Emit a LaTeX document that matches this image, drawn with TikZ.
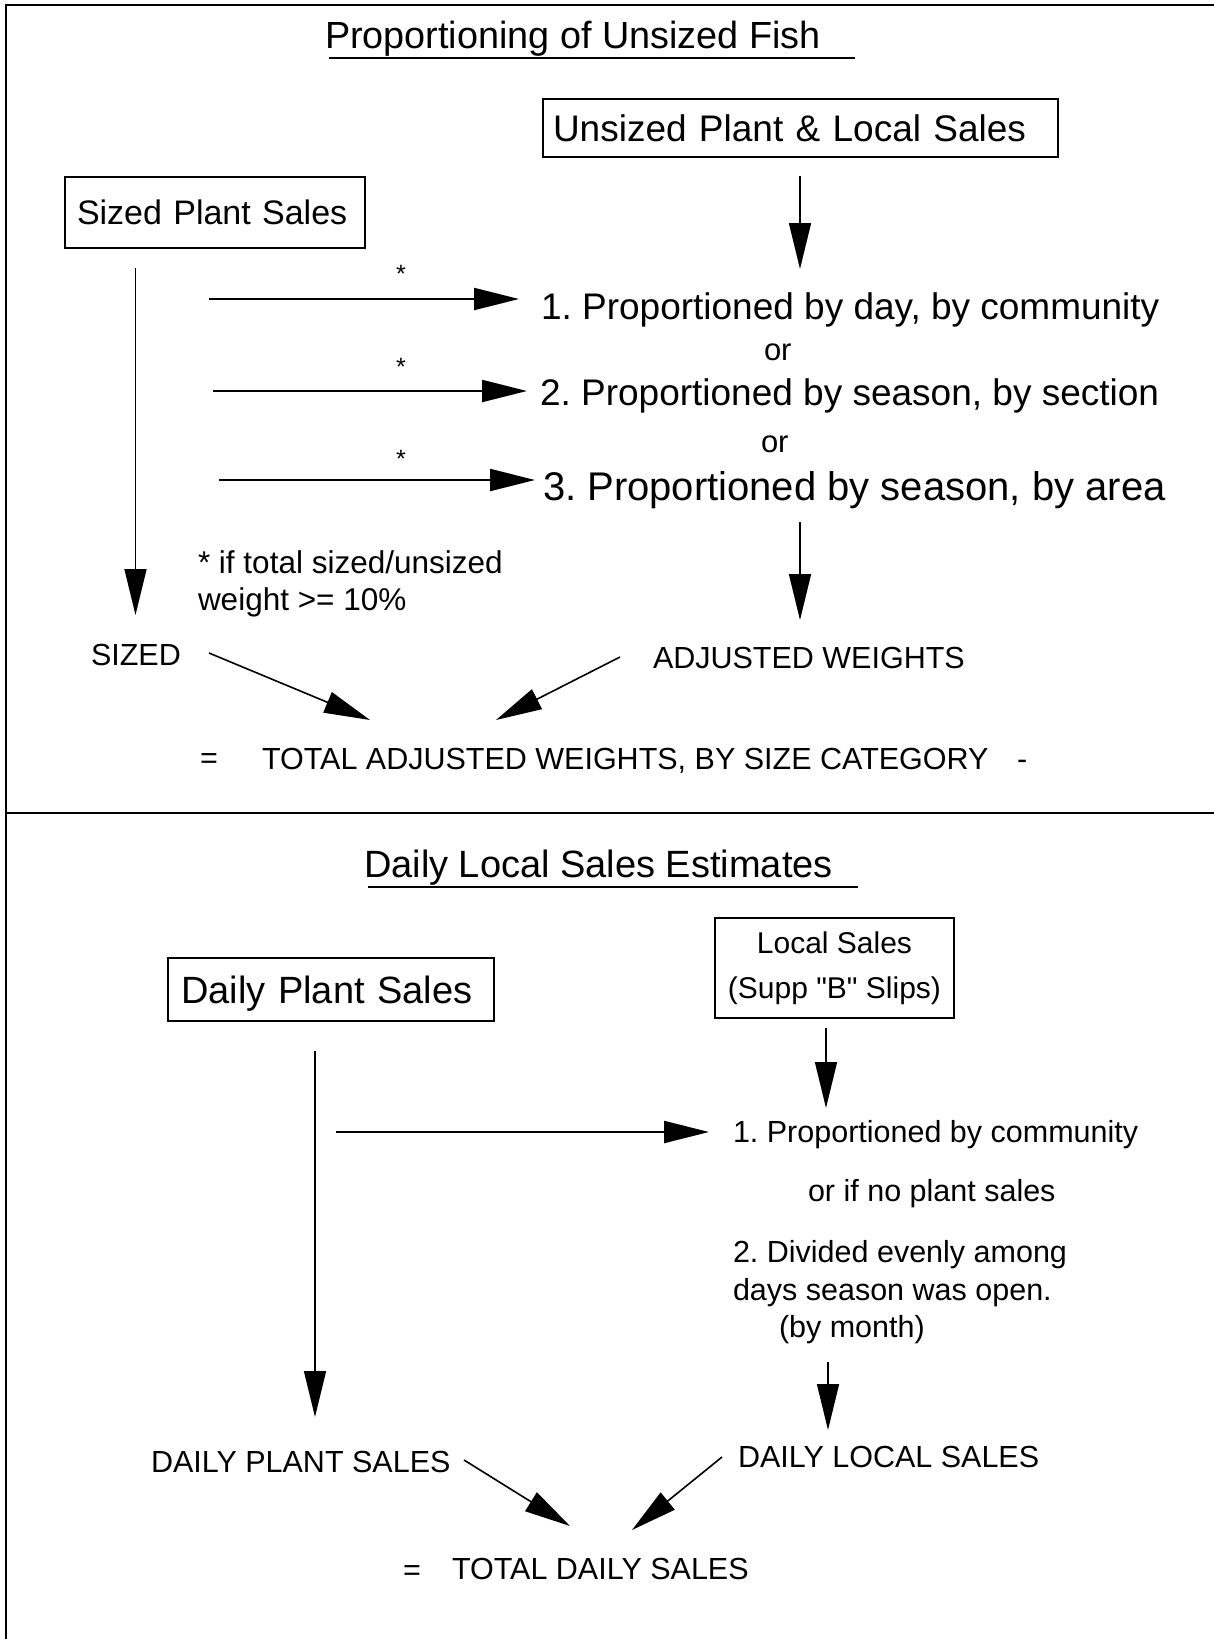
\documentclass[tikz,border=0pt]{standalone}
\usepackage{fontspec}
\setmainfont{Liberation Sans}[Ligatures=TeXOff]
\usetikzlibrary{arrows.meta}
\frenchspacing
\tikzset{
  every node/.style={inner sep=0pt, outer sep=0pt},
  lbl/.style={anchor=base west},
  fbig/.style={font=\fontsize{37}{44}\selectfont},
  fmid/.style={font=\fontsize{30.5}{36}\selectfont},
  frame/.style={line width=2pt},
  ul/.style={line width=2pt},
  box/.style={draw, line width=2pt, inner ysep=0pt},
  arr/.style={line width=1.6pt, -{Triangle[length=46pt,width=22pt]}},
  harr/.style={line width=2.2pt, -{Triangle[length=45pt,width=22pt]}},
  star/.style={anchor=base, font=\fontsize{25}{30}\selectfont}
}
\begin{document}
\begin{tikzpicture}[x=1pt,y=-1pt]
\useasboundingbox (0,0) rectangle (1214,1639);
% frame
\draw[frame] (1214,5) -- (6,5) -- (6,1639);
\draw[frame] (6,813) -- (1214,813);

% ---------------- upper section ----------------
\node[lbl, font=\fontsize{37.8}{44}\selectfont] (title1) at (325,48) {Proportioning of Unsized Fish};
\draw[ul] (329,58) -- (855,58);

\node[box, fbig, minimum width=515pt, minimum height=58pt, inner xsep=10pt,
      text width=495pt, align=left] (unsized) at (800.5,128) {Unsized Plant \& Local Sales};
\node[box, font=\fontsize{34}{40}\selectfont, minimum width=300pt, minimum height=71pt,
      inner xsep=12pt, text width=276pt, align=left] (sized) at (215,212.5) {Sized Plant Sales};

\node[lbl, fbig] (p1) at (541,319) {1. Proportioned by day, by community};
\node[lbl, font=\fontsize{31}{36}\selectfont] (or1) at (764,360) {or};
\node[lbl, fbig] (p2) at (540,405) {2. Proportioned by season, by section};
\node[lbl, font=\fontsize{31}{36}\selectfont] (or2) at (761,452) {or};
\node[lbl, font=\fontsize{40}{46}\selectfont] (p3) at (543,500) {3. Proportioned by season, by area};

\node[star] (s1) at (401,282) {*};
\node[star] (s2) at (401,375) {*};
\node[star] (s3) at (401,467) {*};

\node[lbl, font=\fontsize{31.5}{37}\selectfont] (fn1) at (198,573) {* if total sized/unsized};
\node[lbl, font=\fontsize{31.5}{37}\selectfont] (fn2) at (198,610) {weight >= 10\%};

\node[lbl, fmid] (sizedl) at (91,665) {SIZED};
\node[lbl, fmid] (adjl) at (653,668) {ADJUSTED WEIGHTS};

\node[lbl, fmid] (eq1) at (200,768) {=};
\node[lbl, fmid] (total1) at (262,769) {TOTAL ADJUSTED WEIGHTS, BY SIZE CATEGORY};
\node[lbl, fmid] (dash1) at (1017,769) {-};

% connector end points
\coordinate (ua) at (800,176);   \coordinate (ub) at (800,269);
\coordinate (sa) at (135.5,268); \coordinate (sb) at (135.5,615);
\coordinate (h1a) at (209,299);  \coordinate (h1b) at (519,299);
\coordinate (h2a) at (213,391);  \coordinate (h2b) at (527,391);
\coordinate (h3a) at (219,480);  \coordinate (h3b) at (535,480);
\coordinate (pa) at (800,522);   \coordinate (pb) at (800,620);
\coordinate (d1a) at (209,653);  \coordinate (d1b) at (370,720);
\coordinate (d2a) at (620,657);  \coordinate (d2b) at (496,720);

\draw[arr] (ua) -- (ub);
\draw[arr] (sa) -- (sb);
\draw[harr] (h1a) -- (h1b);
\draw[harr] (h2a) -- (h2b);
\draw[harr] (h3a) -- (h3b);
\draw[arr] (pa) -- (pb);
\draw[arr] (d1a) -- (d1b);
\draw[arr] (d2a) -- (d2b);

% ---------------- lower section ----------------
\node[lbl, font=\fontsize{38}{44}\selectfont] (title2) at (364,877) {Daily Local Sales Estimates};
\draw[ul] (368,887) -- (858,887);

\node[box, font=\fontsize{38}{44}\selectfont, minimum width=326pt, minimum height=63pt,
      inner xsep=13pt, text width=300pt, align=left, text depth=0pt] (daily) at (331,989.5) {Daily Plant Sales};
\node[box, font=\fontsize{30}{45}\selectfont, minimum width=239pt, minimum height=100pt,
      align=center] (local) at (834.5,968) {Local Sales\\(Supp "B" Slips)};

\node[lbl, fmid] (q1) at (733,1142) {1. Proportioned by community};
\node[lbl, fmid] (q2) at (808,1201) {or if no plant sales};
\node[lbl, fmid] (q3) at (733,1262) {2. Divided evenly among};
\node[lbl, fmid] (q4) at (733,1300) {days season was open.};
\node[lbl, fmid] (q5) at (779,1337) {(by month)};

\node[lbl, fmid] (dps) at (151,1472) {DAILY PLANT SALES};
\node[lbl, fmid] (dls) at (738,1467) {DAILY LOCAL SALES};

\node[lbl, fmid] (eq2) at (403,1580) {=};
\node[lbl, fmid] (total2) at (452,1579) {TOTAL DAILY SALES};

\coordinate (la) at (826,1028);  \coordinate (lb) at (826,1108);
\coordinate (da) at (315,1051);  \coordinate (db) at (315,1417);
\coordinate (h4a) at (336,1132); \coordinate (h4b) at (709,1132);
\coordinate (ma) at (828,1362);  \coordinate (mb) at (828,1430);
\coordinate (d3a) at (464,1460); \coordinate (d3b) at (570,1526);
\coordinate (d4a) at (722,1457); \coordinate (d4b) at (632,1530);

\draw[arr] (la) -- (lb);
\draw[arr] (da) -- (db);
\draw[harr] (h4a) -- (h4b);
\draw[arr] (ma) -- (mb);
\draw[arr] (d3a) -- (d3b);
\draw[arr] (d4a) -- (d4b);
\end{tikzpicture}
\end{document}
